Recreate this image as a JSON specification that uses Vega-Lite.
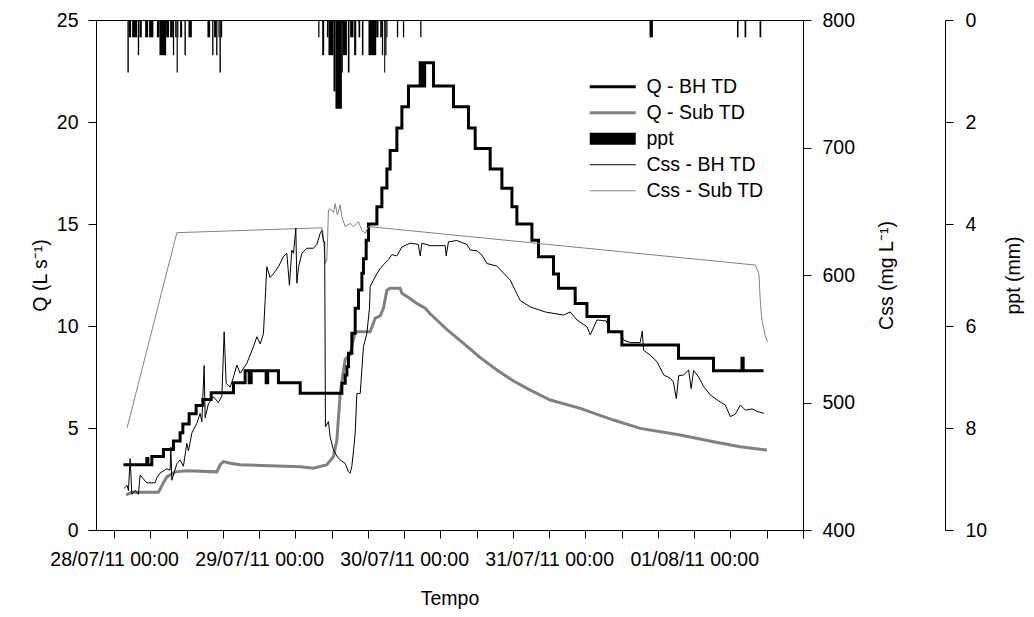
{
  "$schema": "https://vega.github.io/schema/vega-lite/v6.json",
  "width": 707,
  "height": 510,
  "autosize": {"type": "none"},
  "padding": {"left": 96, "top": 20, "right": 231, "bottom": 87},
  "background": "white",
  "config": {
    "font": "Liberation Sans",
    "view": {"stroke": "black", "strokeWidth": 1},
    "axis": {
      "labelFont": "Liberation Sans", "titleFont": "Liberation Sans",
      "labelFontSize": 19.5, "titleFontSize": 19.5, "titleFontWeight": "normal",
      "labelColor": "black", "titleColor": "black", "domainColor": "black", "tickColor": "black",
      "grid": false, "tickSize": 8, "labelOverlap": false, "labelFlush": false, "domainWidth": 1, "tickWidth": 1
    }
  },
  "datasets": {
    "qbh": [
      {"t":1.54,"v":3.2},{"t":5.41,"v":3.5},{"t":5.58,"v":3.2},{"t":6.24,"v":3.6},{"t":8.16,"v":3.95},{"t":9.82,"v":4.36},{"t":10.92,"v":4.77},{"t":11.37,"v":5.2},{"t":12.41,"v":5.7},{"t":13.57,"v":6.1},{"t":14.68,"v":6.4},{"t":16.06,"v":6.73},{"t":19.75,"v":7.22},{"t":21.68,"v":7.81},{"t":22.35,"v":7.22},{"t":22.68,"v":7.81},{"t":25.16,"v":7.22},{"t":25.41,"v":7.81},{"t":27.19,"v":7.22},{"t":30.79,"v":6.7},{"t":37.69,"v":7.19},{"t":38.24,"v":7.6},{"t":38.52,"v":8.0},{"t":38.78,"v":8.66},{"t":39.34,"v":9.64},{"t":39.89,"v":10.87},{"t":40.44,"v":11.76},{"t":41.0,"v":12.58},{"t":41.26,"v":13.3},{"t":41.71,"v":14.2},{"t":42.09,"v":15.0},{"t":43.48,"v":15.85},{"t":44.31,"v":16.76},{"t":45.14,"v":17.7},{"t":45.68,"v":18.6},{"t":46.79,"v":19.7},{"t":47.62,"v":20.75},{"t":48.71,"v":21.76},{"t":50.65,"v":22.9},{"t":51.15,"v":21.76},{"t":51.39,"v":22.9},{"t":52.85,"v":21.76},{"t":56.16,"v":20.75},{"t":58.64,"v":19.7},{"t":59.75,"v":18.7},{"t":62.23,"v":17.7},{"t":64.17,"v":16.75},{"t":65.83,"v":15.85},{"t":66.65,"v":15.0},{"t":69.14,"v":14.2},{"t":70.23,"v":13.4},{"t":72.71,"v":12.55},{"t":73.54,"v":11.85},{"t":76.3,"v":11.1},{"t":78.24,"v":10.46},{"t":81.82,"v":9.72},{"t":84.03,"v":9.07},{"t":93.4,"v":8.42},{"t":99.19,"v":7.81},{"t":103.9,"v":8.42},{"t":104.1,"v":7.81},{"t":107.47,"v":7.81}
    ],
    "qsub": [
      {"t":1.99,"v":1.72},{"t":2.93,"v":1.85},{"t":7.33,"v":1.85},{"t":8.16,"v":2.32},{"t":8.72,"v":2.6},{"t":10.1,"v":2.85},{"t":12.03,"v":2.9},{"t":17.0,"v":2.85},{"t":17.55,"v":3.2},{"t":18.09,"v":3.35},{"t":19.2,"v":3.27},{"t":20.86,"v":3.2},{"t":30.79,"v":3.1},{"t":32.99,"v":3.03},{"t":35.21,"v":3.2},{"t":36.3,"v":3.6},{"t":36.86,"v":4.4},{"t":37.41,"v":6.7},{"t":38.24,"v":8.37},{"t":39.06,"v":8.6},{"t":39.89,"v":9.72},{"t":42.37,"v":9.72},{"t":43.2,"v":10.38},{"t":44.03,"v":10.5},{"t":44.57,"v":10.87},{"t":45.14,"v":11.76},{"t":45.68,"v":11.85},{"t":47.34,"v":11.85},{"t":47.62,"v":11.6},{"t":48.71,"v":11.4},{"t":50.1,"v":11.1},{"t":51.48,"v":10.87},{"t":52.3,"v":10.6},{"t":55.0,"v":9.85},{"t":57.82,"v":9.15},{"t":60.6,"v":8.45},{"t":63.34,"v":7.84},{"t":66.1,"v":7.3},{"t":68.86,"v":6.86},{"t":72.17,"v":6.37},{"t":77.14,"v":5.96},{"t":82.64,"v":5.39},{"t":87.06,"v":4.98},{"t":93.68,"v":4.66},{"t":99.19,"v":4.33},{"t":103.6,"v":4.08},{"t":108.03,"v":3.92}
    ],
    "cssbh": [
      {"t":1.66,"v":432.7},{"t":2.15,"v":435},{"t":2.37,"v":431},{"t":2.65,"v":456},{"t":2.93,"v":428},{"t":3.48,"v":431},{"t":4.02,"v":428},{"t":4.3,"v":443},{"t":4.85,"v":440},{"t":5.41,"v":437},{"t":6.79,"v":437},{"t":7.07,"v":441},{"t":7.61,"v":444.7},{"t":8.72,"v":448},{"t":9.27,"v":447},{"t":9.38,"v":465},{"t":9.55,"v":439},{"t":10.38,"v":452},{"t":10.92,"v":455},{"t":11.47,"v":450},{"t":12.03,"v":468},{"t":12.3,"v":462},{"t":12.86,"v":476},{"t":13.69,"v":483.7},{"t":14.23,"v":491.5},{"t":14.52,"v":485},{"t":14.9,"v":529},{"t":15.06,"v":488},{"t":15.61,"v":499},{"t":16.44,"v":504.5},{"t":17.26,"v":500},{"t":17.83,"v":505},{"t":18.21,"v":555.5},{"t":18.54,"v":515},{"t":19.2,"v":512},{"t":19.75,"v":520},{"t":20.31,"v":529.4},{"t":20.86,"v":523},{"t":21.96,"v":530.7},{"t":23.06,"v":543.8},{"t":23.62,"v":551.6},{"t":24.17,"v":546},{"t":24.71,"v":554},{"t":24.99,"v":580},{"t":25.27,"v":606.5},{"t":25.82,"v":598},{"t":26.37,"v":601},{"t":27.19,"v":606.5},{"t":28.02,"v":614.4},{"t":28.58,"v":617},{"t":29.01,"v":592},{"t":29.41,"v":619.6},{"t":29.68,"v":617},{"t":30.07,"v":636.6},{"t":30.24,"v":593.6},{"t":30.51,"v":606},{"t":31.07,"v":617},{"t":31.9,"v":621},{"t":32.99,"v":621},{"t":33.55,"v":624},{"t":34.1,"v":632.7},{"t":34.38,"v":635},{"t":34.64,"v":626},{"t":34.84,"v":626},{"t":34.97,"v":481},{"t":35.47,"v":485},{"t":35.75,"v":473},{"t":36.3,"v":462.7},{"t":36.86,"v":458},{"t":37.41,"v":455},{"t":38.24,"v":452.3},{"t":38.78,"v":445.7},{"t":39.06,"v":444.5},{"t":39.34,"v":450},{"t":39.61,"v":462},{"t":39.89,"v":475.8},{"t":40.17,"v":507},{"t":40.72,"v":507},{"t":41.26,"v":543.8},{"t":41.82,"v":554},{"t":42.26,"v":574},{"t":42.37,"v":591},{"t":42.92,"v":596},{"t":43.48,"v":601},{"t":44.03,"v":605},{"t":44.57,"v":608},{"t":45.4,"v":612},{"t":45.96,"v":616},{"t":46.79,"v":615},{"t":47.62,"v":622},{"t":49.0,"v":625},{"t":50.33,"v":624},{"t":50.65,"v":615},{"t":50.93,"v":625},{"t":52.3,"v":623},{"t":54.78,"v":623},{"t":54.95,"v":615},{"t":55.33,"v":626},{"t":56.72,"v":627},{"t":58.38,"v":624},{"t":58.93,"v":619.6},{"t":60.03,"v":619},{"t":60.86,"v":615.7},{"t":61.69,"v":609},{"t":63.34,"v":607},{"t":65.55,"v":596},{"t":67.2,"v":580},{"t":68.86,"v":575},{"t":71.34,"v":571},{"t":74.37,"v":568.6},{"t":75.48,"v":571},{"t":76.59,"v":564.7},{"t":78.24,"v":559.5},{"t":78.79,"v":553},{"t":79.9,"v":564.7},{"t":81.44,"v":564},{"t":82.1,"v":555.5},{"t":83.76,"v":555},{"t":84.31,"v":549},{"t":85.41,"v":547},{"t":87.06,"v":547},{"t":87.4,"v":556},{"t":87.62,"v":541},{"t":88.74,"v":537},{"t":89.84,"v":532},{"t":90.94,"v":521.6},{"t":92.05,"v":519},{"t":92.55,"v":516},{"t":93.04,"v":503},{"t":93.42,"v":521},{"t":94.25,"v":521.6},{"t":95.08,"v":525.5},{"t":95.48,"v":511},{"t":95.91,"v":525},{"t":96.74,"v":520},{"t":97.57,"v":512.4},{"t":98.67,"v":505.9},{"t":99.78,"v":502},{"t":101.15,"v":498},{"t":101.98,"v":488.9},{"t":102.81,"v":491},{"t":103.64,"v":498},{"t":104.47,"v":494},{"t":105.58,"v":495},{"t":106.41,"v":493},{"t":107.51,"v":491.5}
    ],
    "csssub": [
      {"t":2.15,"v":480.2},{"t":10.38,"v":633.2},{"t":34.38,"v":637},{"t":34.64,"v":630},{"t":34.92,"v":609},{"t":35.21,"v":612},{"t":35.47,"v":651},{"t":35.75,"v":652},{"t":36.3,"v":649},{"t":36.58,"v":656},{"t":36.96,"v":647},{"t":37.41,"v":655},{"t":37.69,"v":645.7},{"t":38.24,"v":638},{"t":39.06,"v":640.5},{"t":39.61,"v":638},{"t":40.44,"v":641.8},{"t":41.0,"v":635},{"t":41.54,"v":632.7},{"t":42.09,"v":638},{"t":106.1,"v":607.8},{"t":106.7,"v":601},{"t":106.93,"v":580},{"t":107.2,"v":564.7},{"t":107.5,"v":558},{"t":107.78,"v":551.6},{"t":108.16,"v":547.7}
    ],
    "ppt": [
      {"t":2.2,"t2":2.43,"v":1.03},{"t":2.43,"t2":2.81,"v":0.34},{"t":2.98,"t2":3.81,"v":0.34},{"t":3.92,"t2":4.14,"v":0.69},{"t":4.19,"t2":4.58,"v":0.34},{"t":5.13,"t2":5.63,"v":0.34},{"t":5.79,"t2":6.5,"v":0.34},{"t":7.07,"t2":7.5,"v":0.34},{"t":7.5,"t2":8.61,"v":0.69},{"t":8.61,"t2":9.1,"v":0.34},{"t":9.27,"t2":9.72,"v":0.34},{"t":9.72,"t2":9.93,"v":0.69},{"t":10.1,"t2":10.34,"v":0.34},{"t":10.34,"t2":10.54,"v":1.03},{"t":10.54,"t2":10.64,"v":0.34},{"t":10.92,"t2":11.26,"v":0.34},{"t":11.64,"t2":11.87,"v":0.69},{"t":12.3,"t2":12.86,"v":0.34},{"t":15.44,"t2":15.89,"v":0.34},{"t":16.22,"t2":16.44,"v":0.69},{"t":16.55,"t2":16.88,"v":0.34},{"t":16.88,"t2":17.1,"v":0.69},{"t":17.26,"t2":17.43,"v":0.34},{"t":17.43,"t2":17.66,"v":1.03},{"t":17.66,"t2":17.88,"v":0.34},
      {"t":33.77,"t2":33.98,"v":0.34},{"t":34.43,"t2":34.76,"v":0.69},{"t":35.21,"t2":35.47,"v":0.34},{"t":35.47,"t2":36.3,"v":0.69},{"t":36.3,"t2":36.63,"v":1.4},{"t":36.63,"t2":37.69,"v":1.74},{"t":37.69,"t2":37.85,"v":1.03},{"t":37.85,"t2":38.52,"v":0.69},{"t":38.68,"t2":38.95,"v":1.03},{"t":39.06,"t2":39.61,"v":0.34},{"t":39.72,"t2":40.06,"v":0.69},{"t":40.44,"t2":40.72,"v":0.34},{"t":41.0,"t2":41.26,"v":0.69},{"t":42.09,"t2":43.37,"v":0.69},{"t":43.37,"t2":43.75,"v":0.34},{"t":44.03,"t2":44.31,"v":0.34},{"t":44.31,"t2":44.52,"v":0.69},{"t":44.69,"t2":44.86,"v":1.03},{"t":44.86,"t2":45.07,"v":0.69},{"t":45.07,"t2":45.24,"v":0.34},{"t":46.79,"t2":47.01,"v":0.34},{"t":47.79,"t2":48.0,"v":0.34},{"t":50.65,"t2":50.86,"v":0.34},{"t":88.6,"t2":89.16,"v":0.34},{"t":103.07,"t2":103.33,"v":0.34},{"t":104.33,"t2":104.61,"v":0.34},{"t":106.81,"t2":107.09,"v":0.34}
    ]
  },
  "encoding": {
    "x": {
      "field": "t", "type": "quantitative",
      "scale": {"domain": [-3, 114], "nice": false, "zero": false},
      "axis": {
        "title": "Tempo", "titlePadding": 21, "labelPadding": 12,
        "values": [0,6,12,18,24,30,36,42,48,54,60,66,72,78,84,90,96,102,108,114],
        "labelExpr": "datum.value % 24 === 0 ? timeFormat(datetime(2011, 6, 28 + datum.value / 24), '%d/%m/%y %H:%M') : ''"
      }
    }
  },
  "layer": [
    {
      "layer": [
        {
          "data": {"name": "qsub"},
          "mark": {"type": "line", "strokeWidth": 3},
          "encoding": {
            "y": {
              "field": "v", "type": "quantitative",
              "scale": {"domain": [0, 25], "nice": false, "zero": true},
              "axis": {"orient": "left", "values": [0,5,10,15,20,25], "labelPadding": 10, "title": "Q (L s⁻¹)", "titlePadding": 6}
            },
            "color": {
              "datum": "Q - Sub TD", "type": "nominal",
              "scale": {"domain": ["Q - BH TD", "Q - Sub TD", "ppt", "Css - BH TD", "Css - Sub TD"], "range": ["#000000", "#808080", "#000000", "#000000", "#808080"]},
              "legend": {
                "orient": "none", "legendX": 507, "legendY": 57, "title": null, "padding": 0,
                "symbolType": "stroke", "symbolSize": 2116, "symbolStrokeWidth": 3,
                "labelFont": "Liberation Sans", "labelFontSize": 19.5, "labelColor": "black", "labelOffset": 24, "rowPadding": 5,
                "encode": {"symbols": {"update": {
                  "strokeJoin": {"value": "bevel"},
                  "strokeCap": {"value": "butt"},
                  "strokeWidth": {"signal": "datum.value === 'ppt' ? 12 : (datum.value === 'Q - BH TD' || datum.value === 'Q - Sub TD' ? 3 : 1)"}
                }}}
              }
            }
          }
        },
        {
          "data": {"name": "qbh"},
          "mark": {"type": "line", "strokeWidth": 3, "interpolate": "step-after"},
          "encoding": {
            "y": {"field": "v", "type": "quantitative"},
            "color": {"datum": "Q - BH TD", "type": "nominal"}
          }
        }
      ]
    },
    {
      "layer": [
        {
          "data": {"name": "csssub"},
          "mark": {"type": "line", "strokeWidth": 1},
          "encoding": {
            "y": {
              "field": "v", "type": "quantitative",
              "scale": {"domain": [400, 800], "nice": false, "zero": false},
              "axis": {"orient": "right", "values": [400,500,600,700,800], "labelPadding": 11, "title": "Css (mg L⁻¹)", "titleAngle": 270, "titleBaseline": "top", "titlePadding": 23}
            },
            "color": {"datum": "Css - Sub TD", "type": "nominal"}
          }
        },
        {
          "data": {"name": "cssbh"},
          "mark": {"type": "line", "strokeWidth": 1},
          "encoding": {
            "y": {"field": "v", "type": "quantitative"},
            "color": {"datum": "Css - BH TD", "type": "nominal"}
          }
        }
      ]
    },
    {
      "data": {"name": "ppt"},
      "mark": {"type": "rect"},
      "encoding": {
        "x2": {"field": "t2"},
        "y": {
          "field": "v", "type": "quantitative",
          "scale": {"domain": [0, 10], "reverse": true, "nice": false},
          "axis": {"orient": "right", "offset": 142, "values": [0,2,4,6,8,10], "labelPadding": 12, "title": "ppt (mm)", "titleAngle": 270, "titleBaseline": "top", "titlePadding": 18}
        },
        "y2": {"datum": 0},
        "color": {"datum": "ppt", "type": "nominal"}
      }
    }
  ],
  "resolve": {"scale": {"y": "independent"}, "axis": {"y": "independent"}}
}
